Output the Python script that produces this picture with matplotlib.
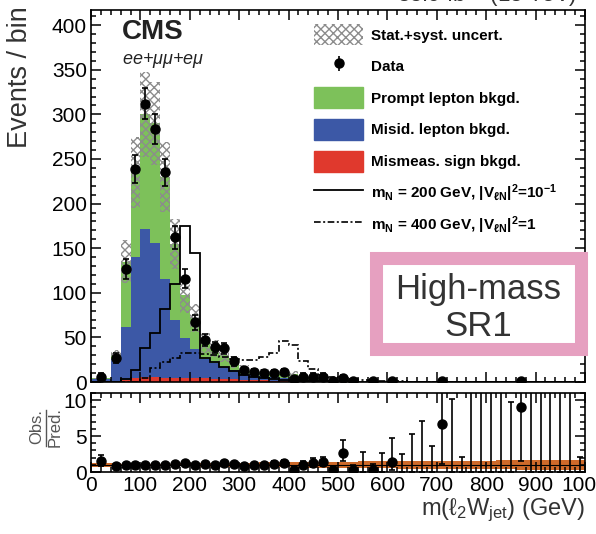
import numpy as np
import matplotlib
matplotlib.use("Agg")
import matplotlib.pyplot as plt
from matplotlib.patches import Patch, Rectangle
from matplotlib.lines import Line2D
from matplotlib.ticker import MultipleLocator, NullFormatter

plt.rcParams["font.family"] = ["Liberation Sans", "DejaVu Sans"]
plt.rcParams["mathtext.default"] = "regular"
plt.rcParams["hatch.linewidth"] = 1.0

# ---- binning: first bin 0-40 GeV, then 20 GeV wide up to 1 TeV ----
edges = np.r_[0, np.arange(40, 1001, 20)]

# ---- background components (events / bin) ----
mismeas = [0.0, 0.5, 2, 5, 6, 6, 5, 5, 4, 4, 4, 3.5, 3, 3, 2.5, 2.5, 2, 1.5, 1.0,
           0.5, 0.3, 0.2, 0.1, 0, 0, 0, 0, 0, 0, 0, 0, 0, 0, 0, 0, 0, 0, 0, 0,
           0, 0, 0, 0, 0, 0, 0, 0, 0, 0]
misid = [3.7, 25, 60, 135, 165, 150, 110, 65, 45, 33, 22, 18, 14, 10, 7, 6, 5, 4, 3.5,
         3, 2.5, 2, 1.5, 1.2, 0.5, 1.0, 0.2, 0.8, 0.2, 0.2, 0.2, 0.1, 0.1, 0.1, 0.05,
         0.05, 0.3, 0.02, 0.02, 0.02, 0.02, 0.05, 0.02, 0.02, 0.02, 0.02, 0.02, 0.02, 0.1]
prompt = [0.3, 4.5, 73, 95, 129, 134, 115, 85, 48, 35, 18, 16.5, 13, 9, 5.5, 3.5, 4, 3.5, 4,
          5.5, 3.2, 2.8, 2.9, 2.8, 1.4, 2.5, 0.45, 2.2, 0.48, 0.5, 0.53, 0.25, 0.16, 0.4, 0.1,
          0.13, 0.6, 0.1, 0.08, 0.1, 0.08, 0.14, 0.09, 0.08, 0.1, 0.08, 0.1, 0.08, 0.8]
unc_rel = [0.25, 0.2, 0.18, 0.17, 0.16, 0.16, 0.17, 0.18, 0.2, 0.22, 0.25, 0.25, 0.27, 0.3,
           0.3, 0.32, 0.33, 0.35, 0.35, 0.35, 0.4, 0.4, 0.4, 0.45, 0.45, 0.45, 0.5, 0.5, 0.5,
           0.5, 0.55, 0.55, 0.55, 0.55, 0.6, 0.6, 0.6, 0.6, 0.6, 0.6, 0.65, 0.65, 0.7, 0.7,
           0.7, 0.7, 0.7, 0.7, 0.7]

# ---- observed events ----
data = [6, 27, 127, 239, 312, 284, 235, 162, 116, 67, 47, 39, 38, 23, 13, 11, 10, 10, 11,
        3, 6, 6, 6, 1, 5, 1, 0, 1, 0, 1, 0, 0, 0, 0, 1, 0, 0, 0, 0, 0, 0, 0, 1, 0, 0,
        0, 0, 0, 0]

# ---- signal hypotheses ----
sig_m200 = [0, 0.5, 3, 14, 38, 55, 82, 110, 175, 145, 27, 22, 17, 12, 8, 6, 4, 3, 2.5,
            2, 1.5, 1.2, 1, 0.8, 0.6, 0.5, 0.4, 0.3, 0.3, 0.2, 0.2, 0.1, 0.1, 0.1, 0.1,
            0.1, 0, 0, 0, 0, 0, 0, 0, 0, 0, 0, 0, 0, 0]
sig_m400 = [0, 0, 0, 0, 5, 16, 22, 27, 33, 33, 31, 30, 28, 26, 25, 25, 28, 33, 46, 42,
            24, 15, 8, 6, 4, 3, 2, 1.5, 1, 0.8, 0.6, 0.5, 0.4, 0.3, 0.2, 0.2, 0.1, 0.1,
            0.1, 0, 0, 0, 0, 0, 0, 0, 0, 0, 0]

C_PROMPT = "#7dc15a"
C_MISID = "#3c58a6"
C_MISMEAS = "#e0392d"
C_BAND = "#cf6a2a"
C_TEXT = "#333333"
DASHDOT = (0, (4, 1.5, 1.2, 1.5))

mismeas = np.array(mismeas)
misid = np.array(misid)
prompt = np.array(prompt)
unc_rel = np.array(unc_rel)
data = np.array(data, dtype=float)
total = mismeas + misid + prompt
centers = 0.5 * (edges[1:] + edges[:-1])
widths = np.diff(edges)

# Garwood-style intervals for small counts, sqrt(n) above
gw_up = {0: 1.84, 1: 2.30, 2: 2.64, 3: 2.92, 4: 3.16, 5: 3.38, 6: 3.58}
gw_dn = {0: 0.0, 1: 0.83, 2: 1.29, 3: 1.63, 4: 1.91, 5: 2.16, 6: 2.38}
err_up = np.array([gw_up.get(int(n), np.sqrt(n)) for n in data])
err_dn = np.array([gw_dn.get(int(n), np.sqrt(n)) for n in data])

fig = plt.figure(figsize=(5.96, 5.34), dpi=100)
ax = fig.add_axes([91 / 596, 1 - 382 / 534, 494 / 596, 372 / 534])
rax = fig.add_axes([91 / 596, 1 - 472 / 534, 494 / 596, 79 / 534])

# ---- stacked backgrounds ----
lvl0 = np.zeros_like(total)
lvl1 = lvl0 + mismeas
lvl2 = lvl1 + misid
lvl3 = lvl2 + prompt
ax.stairs(lvl1, edges, baseline=lvl0, fill=True, color=C_MISMEAS, lw=0)
ax.stairs(lvl2, edges, baseline=lvl1, fill=True, color=C_MISID, lw=0)
ax.stairs(lvl3, edges, baseline=lvl2, fill=True, color=C_PROMPT, lw=0)

# uncertainty hatch
ax.bar(centers, 2 * unc_rel * total, bottom=total * (1 - unc_rel), width=widths,
       fill=False, hatch="xxxx", edgecolor="#8c8c8c", lw=0, zorder=3)

# signals
ax.stairs(sig_m200, edges, color="black", lw=1.3, zorder=4)
ax.stairs(sig_m400, edges, color="black", lw=1.2, zorder=4, linestyle=DASHDOT)

# data
has = data > 0
ax.errorbar(centers[has], data[has], yerr=[err_dn[has], err_up[has]], fmt="o",
            color="black", ms=6.5, lw=1.2, capsize=2, capthick=1.2, zorder=5)

ax.set_xlim(0, 1000)
ax.set_ylim(0, 417)
ax.yaxis.set_major_locator(MultipleLocator(50))
ax.yaxis.set_minor_locator(MultipleLocator(10))
ax.xaxis.set_major_locator(MultipleLocator(100))
ax.xaxis.set_minor_locator(MultipleLocator(20))
ax.xaxis.set_major_formatter(NullFormatter())
ax.set_ylabel("Events / bin", fontsize=19.5, color=C_TEXT)
ax.yaxis.set_label_coords(-0.117, 0.82)

# ---- ratio panel ----
ratio = np.where(total > 0, data / total, 0)
r_up = err_up / total
r_dn = err_dn / total
rax.stairs(1 + unc_rel, edges, baseline=1 - unc_rel, fill=True, color=C_BAND, lw=0)
rax.axhline(1, color="black", lw=0.8)
rax.errorbar(centers[has], ratio[has], yerr=[r_dn[has], r_up[has]], fmt="o",
             color="black", ms=6.5, lw=1.2, capsize=2.5, capthick=1.2, zorder=5)
rax.errorbar(centers[~has], ratio[~has], yerr=[r_dn[~has], r_up[~has]], fmt="none",
             ecolor="black", lw=1.2, capsize=2.5, capthick=1.2, zorder=5)
rax.set_xlim(0, 1000)
rax.set_ylim(0, 11)
rax.yaxis.set_major_locator(MultipleLocator(5))
rax.yaxis.set_minor_locator(MultipleLocator(1))
rax.xaxis.set_major_locator(MultipleLocator(100))
rax.xaxis.set_minor_locator(MultipleLocator(20))
rax.set_xlabel(r"m($\ell_2$W$_{jet}$) (GeV)", fontsize=17, color=C_TEXT, loc="right",
               labelpad=1)

for a in (ax, rax):
    a.tick_params(which="both", direction="in", top=True, right=True,
                  labelsize=15, width=1.1, colors="black", pad=3)
    a.tick_params(which="major", length=7)
    a.tick_params(which="minor", length=3.8)
    for s in a.spines.values():
        s.set_linewidth(1.2)

# Obs./Pred. label
fig.text(37 / 596, 1 - 427 / 534, "Obs.", rotation=90, ha="center", va="center",
         fontsize=12, color="#555555")
fig.text(55 / 596, 1 - 427 / 534, "Pred.", rotation=90, ha="center", va="center",
         fontsize=12, color="#555555")
fig.add_artist(Line2D([46 / 596, 46 / 596], [1 - 410 / 534, 1 - 446 / 534],
                      color="#555555", lw=1.0))

# ---- legend ----
h_unc = Patch(facecolor="white", edgecolor="#8c8c8c", hatch="xxxx", lw=0)
h_data = ax.errorbar([], [], yerr=[], fmt="o", color="black", ms=6.5, lw=1.2)
handles = [h_unc, h_data, Patch(color=C_PROMPT), Patch(color=C_MISID),
           Patch(color=C_MISMEAS),
           Line2D([], [], color="black", lw=1.3),
           Line2D([], [], color="black", lw=1.2, linestyle=DASHDOT)]
labels = ["Stat.+syst. uncert.", "Data", "Prompt lepton bkgd.", "Misid. lepton bkgd.",
          "Mismeas. sign bkgd.",
          r"m$_N$ = 200 GeV, |V$_{\ell N}$|$^2$=10$^{-1}$",
          r"m$_N$ = 400 GeV, |V$_{\ell N}$|$^2$=1"]
ax.legend(handles, labels, loc="upper left", bbox_to_anchor=(0.452, 0.962),
          frameon=False, prop={"size": 11, "weight": "bold"}, handlelength=3.2,
          handleheight=1.73, labelspacing=0.7, handletextpad=0.52, borderaxespad=0,
          borderpad=0)

# ---- labels ----
ax.text(0.063, 0.94, "CMS", transform=ax.transAxes, fontsize=20, fontweight="bold",
        ha="left", va="center", color="#222222")
ax.text(0.063, 0.865, r"ee+$\mu\mu$+e$\mu$", transform=ax.transAxes, fontsize=13,
        style="italic", ha="left", va="center", color="#222222")
fig.text(577 / 596, 1 + 5 / 534, r"35.9 fb$^{-1}$ (13 TeV)", ha="right", va="center",
         fontsize=16, color=C_TEXT)

# ---- region box ----
fig.add_artist(Rectangle((375.5 / 596, 1 - 348.5 / 534), 205 / 596, 90.5 / 534,
                         transform=fig.transFigure, facecolor="white",
                         edgecolor="#e6a0c0", lw=9.4, joinstyle="miter", zorder=10))
fig.text(478 / 596, 1 - 290 / 534, "High-mass", ha="center", va="center",
         fontsize=25, color=C_TEXT, zorder=11)
fig.text(478 / 596, 1 - 327 / 534, "SR1", ha="center", va="center",
         fontsize=25, color=C_TEXT, zorder=11)

fig.savefig("out.png", dpi=100)
